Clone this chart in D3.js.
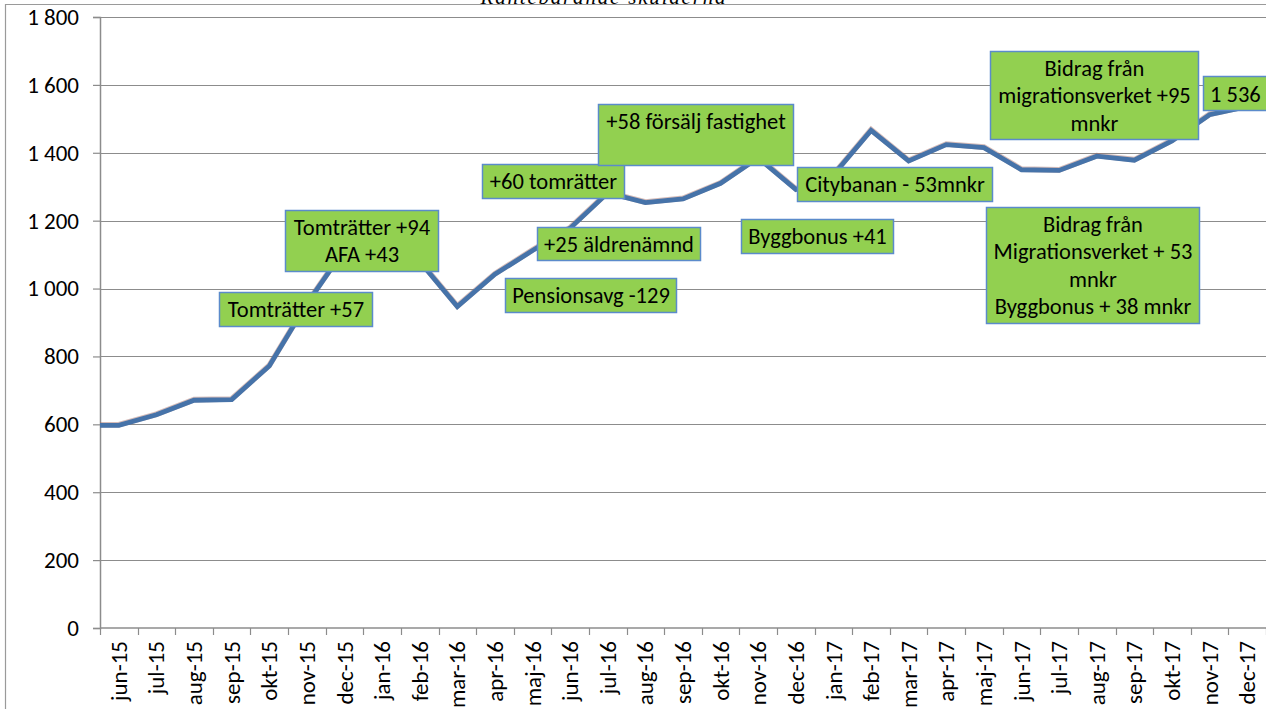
<!DOCTYPE html>
<html>
<head>
<meta charset="utf-8">
<script src="https://cdn.jsdelivr.net/npm/d3@7"></script>
<style>
  body { margin: 0; background: #fff; }
  svg { display: block; }
</style>
</head>
<body>
<div id="chart"></div>
<script>
// --- data ---
const months = ["jun-15","jul-15","aug-15","sep-15","okt-15","nov-15","dec-15","jan-16","feb-16","mar-16",
  "apr-16","maj-16","jun-16","jul-16","aug-16","sep-16","okt-16","nov-16","dec-16","jan-17","feb-17",
  "mar-17","apr-17","maj-17","jun-17","jul-17","aug-17","sep-17","okt-17","nov-17","dec-17"];
const debt = [597, 628, 671, 673, 772, 955, 1115, 1125, 1080, 947,
  1042, 1112, 1178, 1282, 1253, 1264, 1310, 1385, 1292, 1335, 1466,
  1376, 1424, 1415, 1350, 1348, 1390, 1378, 1435, 1512, 1536];
const yTicks = [0, 200, 400, 600, 800, 1000, 1200, 1400, 1600, 1800];
const title = "Räntebärande skulderna";
const noteTexts = [
  "Tomträtter +57",
  "Tomträtter +94\nAFA +43",
  "Pensionsavg -129",
  "+25 äldrenämnd",
  "+60 tomrätter",
  "+58 försälj fastighet\n ",
  "Citybanan - 53mnkr",
  "Byggbonus +41",
  "Bidrag från\nMigrationsverket + 53\nmnkr\nByggbonus + 38 mnkr",
  "Bidrag från\nmigrationsverket +95\nmnkr"
];

// --- layout ---
const W = 1266, H = 709;
const plot = { left: 100, right: 1266, top: 17, bottom: 628 };
// annotation boxes [x, y, w, h] in pixels
const noteBoxes = [
  [219, 292, 153, 34],
  [285, 210, 153, 61],
  [505, 278, 171, 34],
  [537, 227, 163, 33],
  [482, 164, 142, 34],
  [598, 104, 195, 61],
  [797, 167, 195, 34],
  [741, 219, 152, 34],
  [986, 207, 213, 116],
  [990, 51, 208, 88]
];
const font = 'Carlito, "Open Sans", Lato, sans-serif';
const gridColor = "#8c8c8c";
const lineColor = "#4673a9";
const boxFill = "#92d050";
const boxStroke = "#5b8bcb";

const fmt = d3.formatLocale({ decimal: ",", thousands: " ", grouping: [3], currency: ["", " kr"] }).format(",d");

const svg = d3.select("#chart").append("svg")
    .attr("width", W)
    .attr("height", H);

const x = d3.scaleBand().domain(months).range([plot.left, plot.right]).padding(0);
const y = d3.scaleLinear().domain([0, 1800]).range([plot.bottom, plot.top]);
const cx = m => x(m) + x.bandwidth() / 2;

// chart area border (cut by the picture edges)
svg.append("path")
    .attr("d", `M5.5,${H} V4.5 H${W}`)
    .attr("fill", "none")
    .attr("stroke", "#9a9a9a")
    .attr("stroke-width", 1.2);

// title, mostly above the picture
svg.append("text")
    .attr("x", 603)
    .attr("y", 4)
    .attr("text-anchor", "middle")
    .attr("font-family", '"Liberation Serif", "DejaVu Serif", serif')
    .attr("font-style", "italic")
    .attr("font-size", 21)
    .attr("textLength", 245)
    .attr("fill", "#000")
    .text(title);

// gridlines
svg.append("g")
    .selectAll("line")
    .data(yTicks.filter(d => d > 0))
    .join("line")
    .attr("x1", plot.left)
    .attr("x2", plot.right)
    .attr("y1", d => Math.round(y(d)) + 0.5)
    .attr("y2", d => Math.round(y(d)) + 0.5)
    .attr("stroke", gridColor)
    .attr("stroke-width", 1.2);

// y axis
const yAxis = svg.append("g")
    .attr("transform", `translate(${plot.left},0)`)
    .call(d3.axisLeft(y).tickValues(yTicks).tickSize(7).tickPadding(14).tickFormat(fmt));
yAxis.select(".domain").attr("stroke", gridColor).attr("stroke-width", 1.5);
yAxis.selectAll(".tick line").attr("stroke", gridColor).attr("stroke-width", 1.2);
yAxis.selectAll("text")
    .attr("font-family", font)
    .attr("font-size", 23)
    .attr("fill", "#000");

// x axis, ticks between categories
const xAxis = svg.append("g")
    .attr("transform", `translate(0,${plot.bottom})`);
xAxis.append("line")
    .attr("x1", plot.left).attr("x2", plot.right)
    .attr("stroke", gridColor).attr("stroke-width", 1.5);
xAxis.selectAll(".tk")
    .data(months.concat(["end"]))
    .join("line")
    .attr("class", "tk")
    .attr("x1", (d, i) => Math.round(plot.left + i * x.bandwidth()) + 0.5)
    .attr("x2", (d, i) => Math.round(plot.left + i * x.bandwidth()) + 0.5)
    .attr("y1", 0)
    .attr("y2", 7)
    .attr("stroke", gridColor)
    .attr("stroke-width", 1.2);
xAxis.selectAll(".lbl")
    .data(months)
    .join("text")
    .attr("class", "lbl")
    .attr("transform", d => `translate(${cx(d)},13) rotate(-90)`)
    .attr("dy", "0.35em")
    .attr("text-anchor", "end")
    .attr("font-family", font)
    .attr("font-size", 23)
    .attr("fill", "#000")
    .text(d => d);

// the series line; it starts at the axis like in the original
const pts = [[plot.left, y(debt[0])]].concat(months.map((m, i) => [cx(m), y(debt[i])]));
const line = d3.line();
svg.append("path")
    .attr("d", line(pts))
    .attr("fill", "none")
    .attr("stroke", "#a56a62")
    .attr("stroke-opacity", 0.45)
    .attr("stroke-width", 5.6)
    .attr("transform", "translate(0,-0.6)");
svg.append("path")
    .attr("d", line(pts))
    .attr("fill", "none")
    .attr("stroke", lineColor)
    .attr("stroke-width", 4.8)
    .attr("stroke-linejoin", "miter");

// annotation boxes
const notes = svg.append("g")
    .selectAll("g")
    .data(noteTexts.map((t, i) => ({ lines: t.split("\n"), box: noteBoxes[i] })))
    .join("g");
notes.append("rect")
    .attr("x", d => d.box[0] + 0.5)
    .attr("y", d => d.box[1] + 0.5)
    .attr("width", d => d.box[2])
    .attr("height", d => d.box[3])
    .attr("fill", boxFill)
    .attr("stroke", boxStroke)
    .attr("stroke-width", 1.5);
notes.each(function(d) {
    const lh = 27.5;
    const top = d.box[1] + d.box[3] / 2 - (d.lines.length - 1) * lh / 2;
    d3.select(this).selectAll("text")
        .data(d.lines)
        .join("text")
        .attr("x", d.box[0] + d.box[2] / 2 + 0.5)
        .attr("y", (l, i) => top + i * lh)
        .attr("dy", "0.36em")
        .attr("text-anchor", "middle")
        .attr("font-family", font)
        .attr("font-size", 22.5)
        .attr("fill", "#000")
        .text(l => l);
});

// last value label
const last = months.length - 1;
const lastG = svg.append("g");
lastG.append("rect")
    .attr("x", 1203.5).attr("y", 76.5)
    .attr("width", 70).attr("height", 34)
    .attr("fill", boxFill)
    .attr("stroke", boxStroke)
    .attr("stroke-width", 1.5);
lastG.append("text")
    .attr("x", 1210)
    .attr("y", 93.5)
    .attr("dy", "0.36em")
    .attr("font-family", font)
    .attr("font-size", 22.5)
    .attr("fill", "#000")
    .text(fmt(debt[last]));
</script>
</body>
</html>
